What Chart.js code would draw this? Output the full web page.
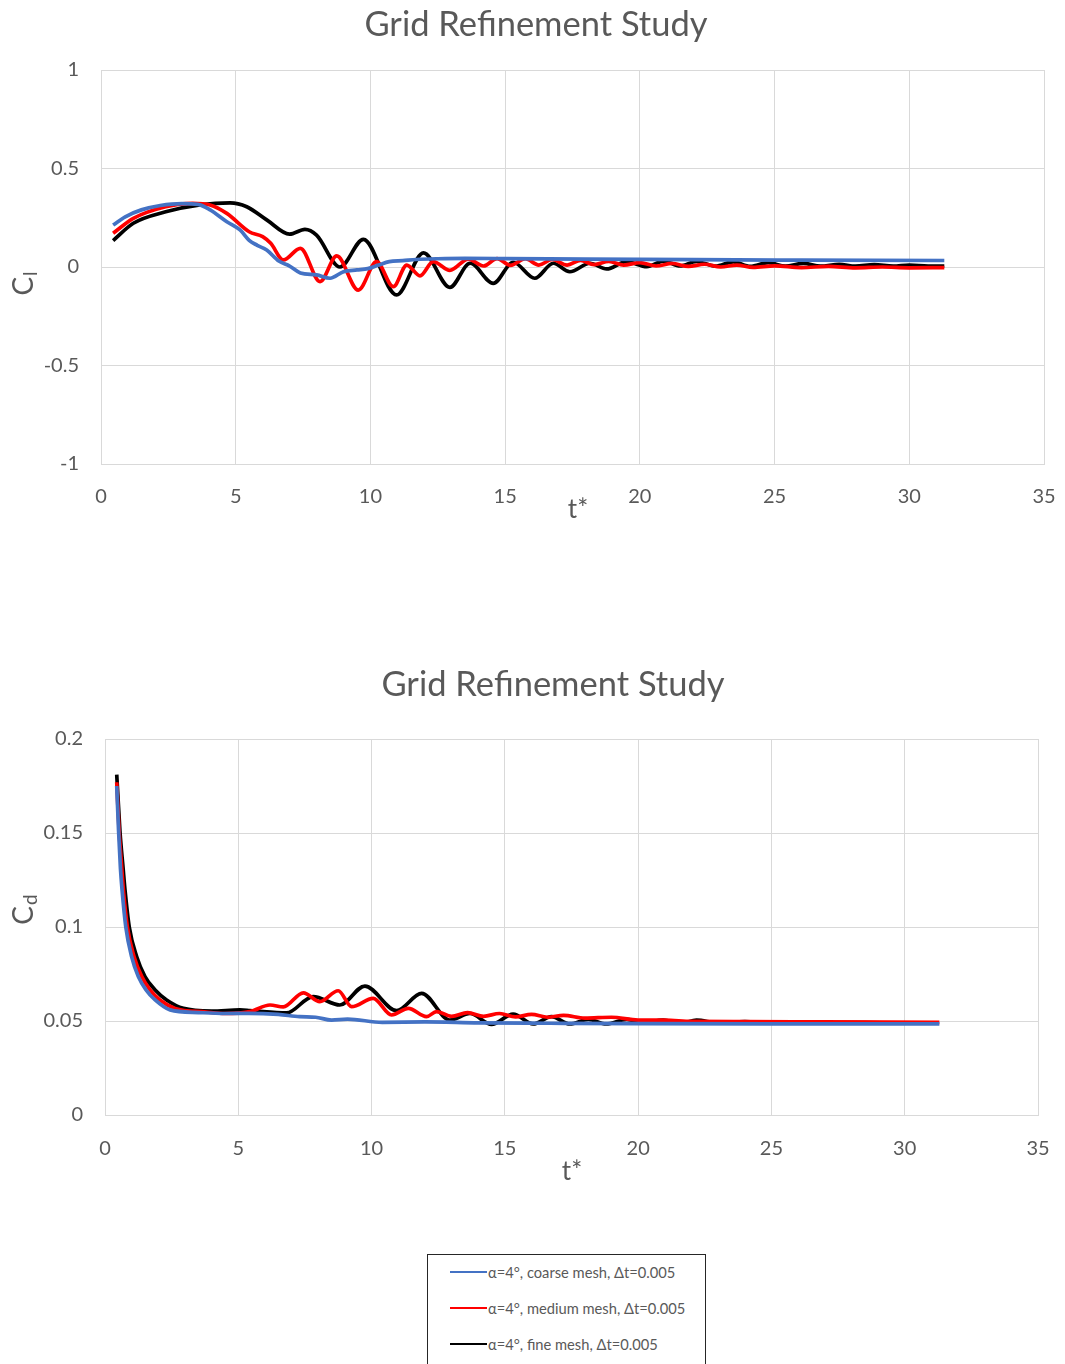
<!DOCTYPE html>
<html>
<head>
<meta charset="utf-8">
<script src="https://cdn.jsdelivr.net/npm/chart.js@4"></script>
<style>
  body { margin: 0; background: #fff; font-family: Lato, sans-serif; }
  #wrap { position: relative; width: 1065px; height: 1364px; overflow: hidden; }
  #clChart { position: absolute; left: 0; top: 0; }
  #cdChart { position: absolute; left: 0; top: 600px; }
  #legend { position: absolute; left: 427px; top: 1254px; width: 279px; height: 130px;
            border: 1px solid #262626; box-sizing: border-box; }
  .row { position: absolute; left: 22px; height: 20px; display: flex; align-items: center;
         font-size: 14.7px; color: #595959; white-space: nowrap; }
  .row span.ln { display: inline-block; width: 37px; height: 2px; margin-right: 1px; }
</style>
</head>
<body>
<div id="wrap">
  <canvas id="clChart" width="1065" height="600"></canvas>
  <canvas id="cdChart" width="1065" height="640"></canvas>
  <div id="legend"></div>
</div>
<script>
// ---- data ----
const seriesLabels = ['α=4°, coarse mesh, Δt=0.005', 'α=4°, medium mesh, Δt=0.005', 'α=4°, fine mesh, Δt=0.005'];
const seriesColors = ['#4472C4', '#FF0000', '#000000'];

const tTicks = [0, 5, 10, 15, 20, 25, 30, 35];
const clTicks = [-1, -0.5, 0, 0.5, 1];
const cdTicks = [0, 0.05, 0.1, 0.15, 0.2];

// lift coefficient
const clCoarseT = [0.45, 0.9, 1.5, 2.2, 3.0, 3.6, 4.05, 4.67, 5.16, 5.5, 5.8, 6.15, 6.6, 7.0, 7.4, 8.0, 8.5, 9.0, 9.5, 9.9, 10.3, 10.7, 11.2, 11.7, 12.5, 13.5, 15, 18, 22, 26, 31.3];
const clCoarse  = [0.213, 0.255, 0.29, 0.312, 0.322, 0.318, 0.29, 0.23, 0.188, 0.135, 0.11, 0.086, 0.03, 0.005, -0.03, -0.04, -0.057, -0.024, -0.015, -0.008, 0.01, 0.027, 0.032, 0.038, 0.042, 0.044, 0.043, 0.04, 0.037, 0.035, 0.033];

const clMediumT = [0.45, 1.2, 2.4, 3.4, 4.05, 4.67, 5.5, 6.0, 6.3, 6.77, 7.4, 8.13, 8.75, 9.55, 10.23, 10.85, 11.35, 11.84, 12.33, 12.95, 13.63, 14.2, 14.7, 15.2, 15.75, 16.25, 16.75, 17.3, 17.8, 18.3, 18.85, 19.4, 20.0, 20.6, 21.2, 21.8, 22.4, 23.0, 23.6, 24.2, 25, 26, 27, 28, 29, 30, 31.3];
const clMedium  = [0.171, 0.247, 0.306, 0.323, 0.315, 0.272, 0.179, 0.154, 0.12, 0.036, 0.095, -0.074, 0.056, -0.117, 0.027, -0.1, 0.01, -0.045, 0.027, -0.017, 0.04, 0.005, 0.043, 0.008, 0.042, 0.01, 0.038, 0.01, 0.034, 0.012, 0.028, 0.01, 0.022, 0.005, 0.018, 0.003, 0.014, 0.0, 0.01, -0.002, 0.006, -0.003, 0.003, -0.004, 0.0, -0.004, -0.003];

const clFineT = [0.45, 1.2, 2.4, 3.67, 4.79, 5.41, 6.15, 7.0, 7.57, 8.0, 8.87, 9.74, 10.97, 11.97, 12.95, 13.7, 14.56, 15.3, 16.1, 16.79, 17.4, 18.15, 18.77, 19.5, 20.26, 20.87, 21.5, 22.1, 22.8, 23.47, 24.1, 24.77, 25.4, 26.07, 26.7, 27.4, 28.0, 28.7, 29.4, 30.0, 30.7, 31.3];
const clFine  = [0.134, 0.222, 0.28, 0.315, 0.326, 0.306, 0.239, 0.167, 0.191, 0.162, 0.0, 0.14, -0.142, 0.072, -0.103, 0.019, -0.083, 0.024, -0.057, 0.019, -0.024, 0.019, -0.01, 0.027, 0.002, 0.03, 0.005, 0.028, 0.004, 0.026, 0.003, 0.022, 0.004, 0.018, 0.004, 0.014, 0.004, 0.012, 0.004, 0.01, 0.005, 0.005];

// drag coefficient
const cdCoarseT = [0.44, 0.51, 0.58, 0.64, 0.78, 1.0, 1.25, 1.54, 1.88, 2.44, 3.5, 4.5, 5.4, 6.5, 7.3, 7.9, 8.5, 9.1, 10.4, 12, 14, 16.7, 20, 25, 31.3];
const cdCoarse  = [0.175, 0.151, 0.131, 0.1197, 0.1, 0.0842, 0.0736, 0.0665, 0.0612, 0.0559, 0.0545, 0.054, 0.0541, 0.0535, 0.0523, 0.052, 0.0505, 0.051, 0.0493, 0.0495, 0.049, 0.0488, 0.0486, 0.0485, 0.0485];

const cdMediumT = [0.44, 0.53, 0.63, 0.69, 0.84, 1.09, 1.38, 1.69, 2.06, 2.63, 3.8, 4.5, 5.44, 6.19, 6.69, 7.44, 8.06, 8.75, 9.25, 10.06, 10.75, 11.38, 12.06, 12.44, 13.0, 13.6, 14.2, 14.8, 15.4, 16.0, 16.6, 17.2, 18.0, 19.0, 20.0, 21.0, 22.0, 24.0, 27.0, 31.3];
const cdMedium  = [0.177, 0.151, 0.131, 0.1197, 0.1, 0.0842, 0.0736, 0.0665, 0.0612, 0.0567, 0.0548, 0.054, 0.055, 0.0585, 0.0575, 0.065, 0.0603, 0.0661, 0.0576, 0.062, 0.0532, 0.0567, 0.0523, 0.055, 0.0525, 0.0545, 0.0525, 0.054, 0.0522, 0.0535, 0.052, 0.053, 0.0515, 0.052, 0.0505, 0.0505, 0.0498, 0.0497, 0.0495, 0.0493];

const cdFineT = [0.44, 0.56, 0.68, 0.75, 0.91, 1.19, 1.5, 1.88, 2.31, 2.94, 4.0, 5.06, 5.44, 6.81, 7.81, 8.81, 9.75, 10.94, 11.88, 12.94, 13.69, 14.5, 15.31, 16.06, 16.75, 17.44, 18.13, 18.8, 19.57, 20.2, 20.94, 21.6, 22.19, 23, 24, 25, 26, 27, 28.5, 30, 31.26];
const cdFine  = [0.181, 0.151, 0.131, 0.1197, 0.1, 0.0842, 0.0736, 0.0665, 0.0612, 0.0567, 0.0553, 0.0559, 0.0556, 0.0543, 0.063, 0.0585, 0.0686, 0.0555, 0.0647, 0.0505, 0.054, 0.0482, 0.0537, 0.0484, 0.0523, 0.0484, 0.0509, 0.0484, 0.0509, 0.049, 0.0505, 0.0488, 0.0505, 0.049, 0.0497, 0.049, 0.0495, 0.049, 0.0492, 0.0489, 0.0488];

// ---- helpers ----
const FONT = 'Lato';
const GREY = '#595959';
const GRID = '#D9D9D9';

function pts(xs, ys) {
  return xs.map((x, i) => ({ x: x, y: ys[i] }));
}

// axis titles with subscript, drawn as text on the canvas
const axisTitles = {
  id: 'axisTitles',
  afterLayout(chart) {
    // let the y tick labels spill left of the (narrow) y scale box
    chart.scales.y.left = 0;
  },
  afterDraw(chart, args, o) {
    const ctx = chart.ctx;
    ctx.save();
    ctx.fillStyle = GREY;
    ctx.textBaseline = 'middle';
    ctx.textAlign = 'center';
    ctx.font = '26px ' + FONT;
    ctx.fillText('t*', o.xAt[0], o.xAt[1]);

    ctx.translate(o.yAt[0], o.yAt[1]);
    ctx.rotate(-Math.PI / 2);
    ctx.font = '28px ' + FONT;
    const wC = ctx.measureText('C').width;
    ctx.font = '19px ' + FONT;
    const wS = ctx.measureText(o.sub).width;
    const x0 = -(wC + wS) / 2;
    ctx.textAlign = 'left';
    ctx.font = '28px ' + FONT;
    ctx.fillText('C', x0, 0);
    ctx.font = '19px ' + FONT;
    ctx.fillText(o.sub, x0 + wC + 1, 7);
    ctx.restore();
  }
};

function makeChart(id, sets, yTicks, opt) {
  const datasets = sets.map((d, i) => ({
    label: seriesLabels[i],
    data: d,
    borderColor: seriesColors[i],
    backgroundColor: seriesColors[i],
    borderWidth: 3.7,
    pointRadius: 0,
    cubicInterpolationMode: 'monotone',
    fill: false
  }));
  return new Chart(document.getElementById(id), {
    type: 'line',
    data: { datasets: datasets },
    plugins: [axisTitles],
    options: {
      responsive: false,
      animation: false,
      layout: { padding: { left: opt.padL, right: opt.padR, top: 0, bottom: 0 } },
      plugins: {
        legend: { display: false },
        tooltip: { enabled: false },
        title: {
          display: true,
          text: 'Grid Refinement Study',
          color: GREY,
          font: { family: FONT, size: 34.5, weight: 'normal' },
          padding: opt.titlePad
        },
        axisTitles: opt.axisTitles
      },
      scales: {
        x: {
          type: 'linear',
          min: tTicks[0],
          max: tTicks[tTicks.length - 1],
          afterBuildTicks: s => { s.ticks = tTicks.map(v => ({ value: v })); },
          afterFit: s => { s.height = opt.xHeight; s.paddingLeft = 12; s.paddingRight = 12; },
          grid: { color: GRID, drawTicks: false },
          border: { color: GRID },
          ticks: { color: GREY, font: { family: FONT, size: 20 }, padding: opt.xTickPad,
                   maxRotation: 0, autoSkip: false, callback: v => String(v) }
        },
        y: {
          type: 'linear',
          min: yTicks[0],
          max: yTicks[yTicks.length - 1],
          afterBuildTicks: s => { s.ticks = yTicks.map(v => ({ value: v })); },
          afterFit: s => { s.width = opt.yWidth; },
          grid: { color: GRID, drawTicks: false },
          border: { color: GRID },
          ticks: { color: GREY, font: { family: FONT, size: 20 }, padding: 22,
                   autoSkip: false, callback: v => String(v) }
        }
      }
    }
  });
}

makeChart('clChart',
  [pts(clCoarseT, clCoarse), pts(clMediumT, clMedium), pts(clFineT, clFine)],
  clTicks,
  { padL: 28, padR: 21, yWidth: 73, xHeight: 136, xTickPad: 21,
    titlePad: { top: 4.3, bottom: 24.3 },
    axisTitles: { xAt: [578, 510], yAt: [24, 284], sub: 'l' } });

makeChart('cdChart',
  [pts(cdCoarseT, cdCoarse), pts(cdMediumT, cdMedium), pts(cdFineT, cdFine)],
  cdTicks,
  { padL: 68, padR: 27, yWidth: 37, xHeight: 125, xTickPad: 22,
    titlePad: { top: 64.3, bottom: 33.3 },
    axisTitles: { xAt: [572, 572], yAt: [24, 310], sub: 'd' } });

// legend box built from the series arrays
const legend = document.getElementById('legend');
seriesLabels.forEach((lab, i) => {
  const row = document.createElement('div');
  row.className = 'row';
  row.style.top = (7 + i * 36) + 'px';
  row.innerHTML = `<span class="ln" style="background:${seriesColors[i]}"></span>${lab}`;
  legend.appendChild(row);
});
</script>
</body>
</html>
